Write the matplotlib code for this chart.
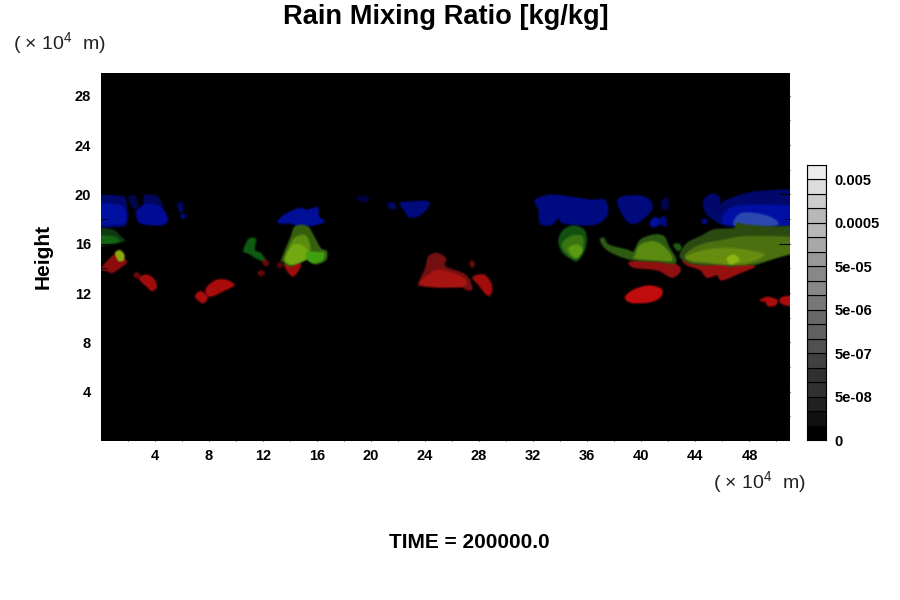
import matplotlib
matplotlib.use('Agg')
import matplotlib.pyplot as plt
from matplotlib.colors import to_rgba
from matplotlib.path import Path
from matplotlib.patches import PathPatch

plt.rcParams['font.family'] = ['Liberation Sans', 'DejaVu Sans']
plt.rcParams['mathtext.default'] = 'regular'

# axis ticks, in units of 10^4 m
x_ticks = [4, 8, 12, 16, 20, 24, 28, 32, 36, 40, 44, 48]
y_ticks = [4, 8, 12, 16, 20, 24, 28]

# colour bar
bar_labels = ['0', '5e-08', '5e-07', '5e-06', '5e-05', '0.0005', '0.005']
bar_label_cells = [0, 3, 6, 9, 12, 15, 18]
bar_greys = ['#000000', '#101010', '#202020', '#303030', '#303030', '#404040',
             '#505050', '#606060', '#686868', '#787878', '#888888', '#888888',
             '#989898', '#a8a8a8', '#b8b8b8', '#b8b8b8', '#cccccc', '#dcdcdc',
             '#ececec']

# outlines of the rain features, (x, height)
blue_left = [(-0.5, 19.82), (1.23, 19.87), (1.85, 19.55), (1.92, 17.66), (1.11, 17.39), (-0.5, 17.52)]
blue_left_in = [(-0.5, 19.14), (1.23, 19.14), (1.78, 18.74), (1.78, 17.79), (1.11, 17.6), (-0.5, 17.66)]
blue_b = [(2.1, 19.82), (2.59, 19.82), (2.71, 19.0), (2.47, 18.87), (2.22, 19.28)]
blue_c = [(3.33, 19.95), (4.19, 19.82), (4.49, 19.22), (4.39, 18.87), (3.45, 18.87), (3.2, 19.41)]
blue_d = [(2.66, 18.6), (3.08, 19.06), (3.7, 19.22), (4.56, 18.87), (4.93, 17.98), (4.68, 17.58),
          (3.94, 17.52), (3.2, 17.6), (2.84, 17.79), (2.71, 18.2)]
blue_s1 = [(5.72, 19.22), (6.04, 19.33), (6.09, 18.74), (5.87, 18.6)]
blue_s2 = [(5.92, 18.25), (6.11, 18.41), (6.29, 18.25), (6.09, 18.06)]
blue_e = [(13.12, 17.79), (13.44, 18.2), (14.05, 18.6), (14.79, 18.87), (15.29, 18.74), (16.03, 18.93),
          (16.15, 18.2), (16.52, 17.79), (15.78, 17.52), (14.79, 17.39), (14.05, 17.66), (13.44, 17.66)]
blue_f = [(18.98, 19.76), (19.48, 19.87), (19.85, 19.6), (19.35, 19.41)]
blue_g = [(21.25, 19.28), (21.7, 19.28), (21.82, 18.87), (21.4, 18.87)]
blue_h = [(22.19, 19.28), (23.17, 19.41), (24.21, 19.41), (24.16, 18.87), (23.42, 18.2), (22.8, 18.2),
          (22.56, 18.6)]
blue_i = [(32.17, 19.55), (33.28, 19.95), (34.52, 19.82), (36.24, 19.55), (37.23, 19.55), (37.52, 18.74),
          (37.23, 17.98), (36.24, 17.52), (34.27, 17.66), (33.9, 18.06), (33.28, 17.52), (32.54, 17.66),
          (32.42, 18.74)]
blue_j = [(38.34, 19.68), (40.18, 19.82), (40.8, 18.87), (39.57, 17.66), (38.71, 18.2)]
blue_k = [(40.68, 17.79), (41.05, 18.12), (41.47, 17.79), (41.05, 17.39), (40.73, 17.44)]
blue_l = [(41.47, 18.06), (41.79, 18.14), (41.86, 17.52), (41.54, 17.52)]
blue_m = [(41.54, 19.41), (41.96, 19.68), (41.96, 18.87), (41.54, 18.87)]
blue_n = [(44.5, 17.87), (44.75, 18.01), (44.87, 17.79), (44.62, 17.6)]
blue_o = [(44.62, 19.55), (45.24, 20.03), (45.73, 19.82), (45.86, 19.14), (46.35, 19.55), (48.57, 20.22),
          (52, 20.09), (52, 17.52), (49.31, 17.39), (47.33, 17.39), (46.1, 17.52), (45.24, 18.06),
          (44.75, 18.6)]
blue_o_in = [(46.1, 17.66), (46.6, 18.87), (48.57, 19.14), (52, 18.87), (52, 17.66), (48.57, 17.52)]
blue_o_hi = [(46.84, 17.71), (47.46, 18.47), (49.06, 18.33), (50.05, 17.79), (49.68, 17.44), (47.33, 17.39)]

red_a = [(0.1, 14.01), (0.86, 14.95), (1.23, 15.09), (1.92, 14.55), (1.48, 14.09), (0.86, 13.66), (0.49, 13.82)]
red_b = [(2.47, 13.47), (2.71, 13.66), (2.91, 13.39), (2.66, 13.22)]
red_c = [(2.91, 13.28), (3.45, 13.47), (3.94, 13.12), (4.14, 12.52), (3.82, 12.2), (3.45, 12.52), (2.96, 13.01)]
red_d = [(7.03, 11.76), (7.4, 12.12), (7.89, 11.71), (7.64, 11.22), (7.27, 11.39)]
red_e = [(7.84, 12.39), (8.51, 13.01), (9.25, 13.06), (9.86, 12.66), (9.12, 12.2), (8.26, 11.76), (7.89, 11.85)]
red_s1 = [(11.91, 14.68), (12.2, 14.74), (12.45, 14.41), (12.2, 14.2)]
red_s2 = [(11.64, 13.6), (11.88, 13.82), (12.13, 13.6), (11.88, 13.39)]
red_s3 = [(13.07, 14.25), (13.26, 14.47), (13.51, 14.25), (13.26, 14.03)]
red_f = [(13.68, 14.41), (14.74, 14.41), (14.67, 13.93), (14.25, 13.39), (13.81, 13.82)]
red_g = [(23.54, 12.79), (24.04, 14.01), (24.28, 14.95), (24.9, 15.22), (25.52, 14.82), (25.52, 14.14),
         (27.0, 13.47), (27.49, 12.39), (27.12, 12.25), (26.63, 12.52), (25.15, 12.47), (23.79, 12.58)]
red_g_in = [(23.67, 12.74), (24.28, 13.47), (25.15, 13.87), (26.87, 13.2), (26.87, 12.58), (25.15, 12.52)]
red_s4 = [(27.32, 14.41), (27.49, 14.6), (27.66, 14.36), (27.49, 14.09)]
red_h = [(27.56, 13.28), (28.35, 13.47), (28.89, 12.74), (28.89, 11.98), (28.6, 11.85), (27.98, 12.66)]
red_i = [(39.25, 14.55), (41.17, 14.55), (42.4, 14.41), (42.9, 13.87), (42.28, 13.28), (41.17, 13.87), (39.44, 14.09)]
red_j = [(43.14, 14.68), (44.62, 14.36), (46.1, 14.47), (48.32, 14.2), (47.33, 13.66), (45.98, 13.06),
         (45.61, 13.47), (44.87, 13.28), (44.38, 13.87), (43.39, 14.28)]
red_k = [(38.83, 11.66), (39.45, 12.25), (40.55, 12.58), (41.47, 12.31), (41.42, 11.71), (40.68, 11.3), (39.32, 11.22)]
red_l = [(48.81, 11.39), (49.31, 11.66), (50, 11.44), (49.92, 11.04), (49.43, 10.95), (49.18, 11.3)]
red_m = [(50.24, 11.39), (50.66, 11.71), (52, 11.66), (52, 10.95), (50.66, 11.04)]

green_a = [(-0.5, 17.12), (0.86, 17.12), (1.48, 16.58), (1.73, 16.25), (0.99, 16.03), (-0.5, 15.9)]
green_a_in = [(-0.5, 16.58), (0.86, 16.58), (1.36, 16.25), (0.74, 16.03), (-0.5, 15.98)]
green_b = [(1.11, 15.22), (1.43, 15.44), (1.73, 15.09), (1.68, 14.68), (1.36, 14.63)]
green_c = [(10.6, 15.44), (10.97, 16.36), (11.46, 16.36), (11.39, 15.5), (11.83, 15.22), (12.13, 14.74),
           (11.71, 14.74), (10.97, 15.22)]
green_d = [(13.44, 14.82), (14.05, 16.44), (14.42, 17.39), (15.29, 17.39), (15.78, 16.58), (16.27, 15.63),
           (16.72, 15.36), (16.64, 14.68), (15.9, 14.36), (15.29, 14.68), (14.55, 14.41), (13.93, 14.2), (13.51, 14.55)]
green_d_mid = [(13.68, 14.82), (14.2, 16.2), (14.6, 16.6), (15.2, 16.6), (15.5, 15.6), (15.3, 14.9), (14.6, 14.5), (14.05, 14.36)]
green_d_in = [(13.68, 14.82), (14.3, 15.9), (15.04, 15.77), (15.41, 15.09), (14.79, 14.55), (14.05, 14.36)]
green_d_lobe = [(15.29, 15.3), (16.03, 15.3), (16.52, 15.22), (16.4, 14.68), (15.78, 14.47), (15.34, 14.74)]
green_e = [(33.9, 16.3), (34.27, 17.12), (35.01, 17.44), (35.75, 17.12), (35.95, 16.3), (35.75, 15.36),
           (35.26, 14.63), (34.76, 14.82), (34.15, 15.36)]
green_e_in = [(34.15, 15.9), (34.76, 16.58), (35.63, 16.58), (35.63, 15.5), (35.2, 14.82), (34.64, 15.09)]
green_e_hi = [(34.64, 15.63), (35.26, 15.9), (35.63, 15.5), (35.26, 14.9), (34.89, 15.09)]
green_f = [(36.98, 16.3), (37.23, 16.44), (37.6, 15.9), (38.95, 15.5), (39.44, 15.36), (39.94, 16.3),
           (40.92, 16.71), (41.66, 16.58), (42.03, 15.77), (42.53, 14.82), (42.4, 14.41), (41.17, 14.55),
           (39.44, 14.68), (38.21, 15.09), (37.35, 15.63)]
green_f_in = [(39.57, 15.09), (39.94, 15.9), (40.92, 16.17), (41.79, 15.63), (42.28, 14.68), (41.17, 14.68), (39.57, 14.82)]
green_g = [(42.4, 15.9), (42.77, 15.98), (42.95, 15.63), (42.7, 15.44)]
green_h = [(42.85, 15.09), (43.39, 16.03), (44.38, 16.58), (45.36, 17.12), (46.84, 17.25), (47.09, 17.66),
           (47.83, 17.52), (49.31, 17.39), (52, 17.25), (52, 15.63), (49.8, 14.82), (48.32, 14.28),
           (47.58, 14.55), (46.6, 14.14), (46.1, 14.41), (44.75, 14.28), (43.64, 14.41), (43.14, 14.68)]
green_h_mid = [(43.27, 15.09), (44.38, 15.9), (46.1, 16.3), (47.83, 16.58), (52, 16.44), (52, 15.63),
               (48.32, 14.41), (46.6, 14.28), (44.75, 14.41), (43.64, 14.55)]
green_h_in = [(43.39, 15.0), (44.87, 15.5), (46.6, 15.63), (48.32, 15.36), (49.06, 15.09), (48.07, 14.55),
              (46.6, 14.36), (44.62, 14.55), (43.64, 14.68)]
green_h_hi = [(46.35, 14.82), (46.84, 15.09), (47.21, 14.68), (46.6, 14.36)]

# (outline, colour), in drawing order
layers = [
    (blue_left, '#00086e'), (blue_left_in, '#0010a0'), (blue_b, '#00064a'), (blue_c, '#00075a'),
    (blue_d, '#000c96'), (blue_s1, '#000860'), (blue_s2, '#000a80'), (blue_e, '#000e98'),
    (blue_f, '#000340'), (blue_g, '#000860'), (blue_h, '#000a7c'), (blue_i, '#000a80'),
    (blue_j, '#000a7c'), (blue_k, '#000e98'), (blue_l, '#000a80'), (blue_m, '#000550'),
    (blue_n, '#000a80'), (blue_o, '#00086c'), (blue_o_in, '#0010a4'), (blue_o_hi, '#2a48b0'),
    (red_a, '#8a0c0c'), (red_b, '#6a0a0a'), (red_c, '#a00c0c'), (red_d, '#a80c0c'), (red_e, '#a80c0c'),
    (red_s1, '#600a0a'), (red_s2, '#600a0a'), (red_s3, '#500808'), (red_f, '#9c0c0c'),
    (red_g, '#701010'), (red_g_in, '#a81410'), (red_s4, '#6a0a0a'), (red_h, '#a00c0c'),
    (red_i, '#8e1010'), (red_j, '#961010'), (red_k, '#c00c0c'), (red_l, '#a80c0c'), (red_m, '#a80c0c'),
    (green_a, '#0e3a10'), (green_a_in, '#126414'), (green_b, '#8aa810'), (green_c, '#0f5a12'),
    (green_d, '#34600e'), (green_d_mid, '#5a8c10'), (green_d_in, '#72a810'), (green_d_lobe, '#3ea010'),
    (green_e, '#12500f'), (green_e_in, '#3a7410'), (green_e_hi, '#5a9a10'),
    (green_f, '#2c5a10'), (green_f_in, '#5a8a10'), (green_g, '#1a5a10'),
    (green_h, '#2a4a10'), (green_h_mid, '#4a7010'), (green_h_in, '#668c10'), (green_h_hi, '#8cb410'),
]


def blob_path(points):
    # closed Catmull-Rom curve through the outline points
    n = len(points)
    verts = [points[0]]
    codes = [Path.MOVETO]
    for i in range(n):
        p0, p1, p2, p3 = (points[(i + k - 1) % n] for k in range(4))
        c1 = (p1[0] + (p2[0] - p0[0]) / 6, p1[1] + (p2[1] - p0[1]) / 6)
        c2 = (p2[0] - (p3[0] - p1[0]) / 6, p2[1] - (p3[1] - p1[1]) / 6)
        verts += [c1, c2, p2]
        codes += [Path.CURVE4, Path.CURVE4, Path.CURVE4]
    return Path(verts, codes)


fig = plt.figure(figsize=(9, 6), dpi=100)
ax = fig.add_axes([100.5 / 900, 1 - 441 / 600, 689.5 / 900, 368 / 600])
ax.set_facecolor('black')
ax.set_xlim(0, 51)
ax.set_ylim(0, 29.85)

for points, colour in layers:
    # soft rim so the layers fade into each other
    ax.add_patch(PathPatch(blob_path(points), facecolor=colour,
                           edgecolor=to_rgba(colour, 0.4), linewidth=2))

ax.set_xticks(x_ticks)
ax.set_yticks(y_ticks)
ax.set_xticks(range(2, 51, 4), minor=True)
ax.set_yticks(range(2, 30, 4), minor=True)
ax.tick_params(which='major', direction='in', length=8, top=True, right=True, color='black')
ax.tick_params(axis='x', which='major', pad=6)
ax.tick_params(axis='y', which='major', pad=7)
ax.tick_params(which='minor', direction='in', length=4, top=True, right=True, color='black')
for label in ax.get_xticklabels() + ax.get_yticklabels():
    label.set_fontweight('bold')
    label.set_fontsize(10.5)
for spine in ax.spines.values():
    spine.set_visible(False)

# colour bar
cax = fig.add_axes([807 / 900, 1 - 440 / 600, 19 / 900, 275 / 600])
for i, grey in enumerate(bar_greys):
    cax.bar(0.5, 1, width=1, bottom=i, color=grey, edgecolor='black', linewidth=0.8)
cax.set_xlim(0, 1)
cax.set_ylim(0, len(bar_greys))
cax.set_xticks([])
cax.yaxis.tick_right()
cax.set_yticks(bar_label_cells, bar_labels, fontsize=10.5, fontweight='bold')
cax.tick_params(axis='y', length=0, pad=6)
for spine in cax.spines.values():
    spine.set_linewidth(0.8)

fig.text(446 / 900, 1 - 17 / 600, 'Rain Mixing Ratio [kg/kg]', ha='center', va='center',
         fontsize=19.6, fontweight='bold')
fig.text(60 / 900, 1 - 43 / 600, '( × 10$^{4}$  m)', ha='center', va='center', fontsize=14, color='#222222')
fig.text(760 / 900, 1 - 482 / 600, '( × 10$^{4}$  m)', ha='center', va='center', fontsize=14, color='#222222')
fig.text(43 / 900, 1 - 256 / 600, 'Height', rotation=90, ha='center', va='center',
         fontsize=15, fontweight='bold')
fig.text(469 / 900, 1 - 542 / 600, 'TIME = 200000.0', ha='center', va='center',
         fontsize=15, fontweight='bold')

fig.savefig('out.png', dpi=100)
